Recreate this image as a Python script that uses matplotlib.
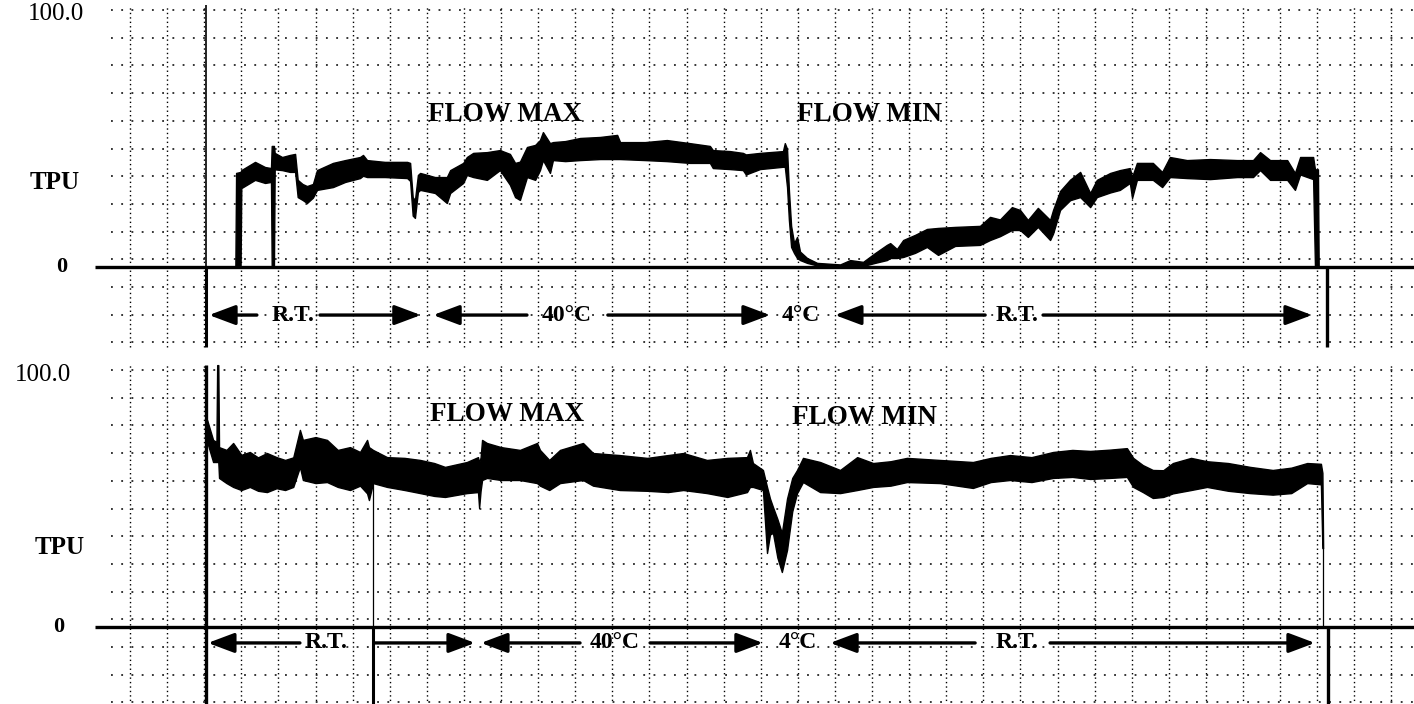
import numpy as np
import matplotlib.pyplot as plt

# chart recorder trace, upper / lower edge of the pen band (TPU), x in chart divisions
top_x = [2.84, 2.86, 2.98, 3.00, 3.37, 3.64, 3.80, 3.82, 3.88, 3.90, 4.10, 4.31, 4.45, 4.52,
         4.65, 4.77, 4.93, 5.04, 5.47, 5.80, 6.20, 6.28, 6.39, 6.87, 7.47, 7.55, 7.62, 7.68,
         7.76, 7.82, 8.22, 8.54, 8.63, 8.98, 9.08, 9.25, 9.62, 9.97, 10.24, 10.38, 10.51,
         10.70, 10.92, 11.05, 11.13, 11.32, 11.40, 11.73, 12.13, 12.67, 13.13, 13.21, 13.88,
         14.47, 15.09, 15.63, 15.71, 16.17, 16.52, 16.60, 16.98, 17.60, 17.65, 17.71, 17.76,
         17.82, 17.90, 17.98, 18.06, 18.25, 18.52, 19.14, 19.41, 19.76, 20.08, 20.40, 20.49,
         20.67, 20.84, 21.16, 21.48, 21.78, 22.24, 22.91, 23.18, 23.45, 23.77, 23.99, 24.20,
         24.47, 24.80, 24.88, 25.07, 25.34, 25.61, 25.88, 26.06, 26.42, 26.68, 26.95, 27.01,
         27.14, 27.57, 27.82, 28.03, 28.49, 29.11, 29.84, 30.27, 30.46, 30.73, 31.19, 31.40,
         31.54, 31.89, 31.94, 32.02, 32.04]
top_hi = [0, 36.6, 37.0, 37.7, 40.9, 38.9, 38.5, 47.1, 47.1, 44.4, 42.8, 43.6, 44.0, 33.9,
          32.3, 31.5, 32.3, 37.7, 40.5, 41.6, 42.8, 43.6, 41.6, 40.9, 40.9, 40.5, 27.2, 26.0,
          35.8, 36.6, 35.0, 35.0, 37.7, 40.5, 42.8, 44.4, 44.7, 45.5, 44.0, 40.5, 41.0,
          46.7, 47.5, 49.4, 52.5, 48.2, 48.6, 49.0, 50.2, 50.6, 51.4, 48.6, 48.6,
          49.4, 48.2, 47.1, 45.5, 45.1, 44.4, 43.8, 44.4, 45.1, 48.2, 46.0, 30.0,
          16.0, 9.3, 11.7, 6.0, 3.5, 1.6, 1.0, 2.7, 2.0, 5.4, 8.6, 9.3,
          7.0, 10.5, 12.5, 14.8, 15.2, 15.6, 16.0, 19.5, 18.5, 23.3, 22.2, 18.3,
          23.0, 18.3, 22.2, 29.6, 34.0, 37.0, 28.8, 33.9, 36.6, 37.7, 38.5, 35.0,
          40.5, 40.5, 37.0, 42.8, 41.6, 42.0, 41.6, 41.6, 44.7, 41.6, 41.6, 36.6,
          42.8, 42.8, 38.0, 38.0, 0]
top_lo = [0, 0, 0, 30.7, 33.9, 32.7, 33.1, 0, 0, 38.0, 37.7, 37.0, 37.0, 27.2,
          26.1, 24.9, 27.0, 30.0, 31.1, 33.1, 34.6, 35.5, 35.0, 35.0, 34.6, 33.5, 20.0, 19.1,
          29.2, 30.0, 28.8, 24.9, 28.8, 32.7, 35.8, 35.0, 33.9, 37.7, 32.0, 27.2, 26.1,
          35.0, 33.9, 37.7, 41.6, 36.6, 41.6, 41.2, 41.6, 42.0, 42.0, 42.0, 41.6,
          41.2, 40.5, 40.5, 38.5, 38.1, 37.7, 36.0, 38.1, 39.0, 39.0, 31.1, 18.3,
          7.8, 5.4, 3.5, 2.7, 1.6, 0.6, 0.0, 0.4, 0.4, 1.6, 2.7, 3.5,
          3.5, 3.9, 5.5, 7.8, 4.7, 8.2, 8.6, 10.5, 12.0, 14.4, 14.4, 11.7,
          15.6, 10.5, 13.0, 22.2, 26.0, 27.2, 23.3, 27.2, 29.0, 30.0, 32.7, 26.8,
          33.9, 33.9, 31.1, 35.0, 34.6, 34.2, 35.0, 35.0, 37.7, 33.9, 33.9, 30.0,
          36.0, 34.2, 0, 0, 0]

bot_x = [2.08, 2.24, 2.33, 2.35, 2.38, 2.40, 2.60, 2.78, 3.00, 3.23, 3.45, 3.69, 3.95, 4.18,
         4.40, 4.58, 4.66, 5.00, 5.31, 5.60, 5.93, 6.20, 6.39, 6.44, 6.55, 6.93, 7.40, 7.82,
         8.20, 8.49, 9.08, 9.38, 9.41, 9.45, 9.49, 9.62, 10.00, 10.51, 10.97, 11.05, 11.30,
         11.59, 12.21, 12.48, 13.20, 13.94, 14.50, 14.91, 15.55, 16.10, 16.63, 16.71, 16.79,
         17.06, 17.17, 17.25, 17.33, 17.45, 17.57, 17.71, 17.85, 17.98, 18.14, 18.60, 19.14,
         19.60, 20.03, 20.50, 20.94, 21.83, 22.72, 23.20, 23.72, 24.30, 24.88, 25.40, 25.88,
         26.40, 26.87, 27.04, 27.30, 27.57, 27.85, 28.11, 28.60, 29.03, 29.60, 30.19, 30.80,
         31.30, 31.73, 32.10, 32.14, 32.16]
bot_hi = [80.5, 72.8, 72.0, 101.9, 101.9, 70.0, 68.9, 71.6, 67.0, 68.1, 66.0, 67.7, 66.1, 65.0,
          66.0, 76.7, 72.8, 73.9, 72.8, 68.9, 70.0, 68.1, 72.8, 70.0, 68.9, 66.1, 65.8, 65.0,
          63.8, 62.3, 64.2, 66.1, 64.0, 66.0, 72.8, 71.6, 70.0, 68.9, 71.6, 68.9, 65.0,
          68.9, 71.6, 67.7, 66.9, 65.8, 66.9, 67.7, 65.0, 65.8, 66.1, 68.9, 63.8,
          61.1, 54.5, 50.0, 46.7, 42.0, 36.6, 50.0, 58.0, 61.1, 65.8, 64.2, 61.1,
          66.1, 63.8, 64.5, 65.8, 65.0, 64.2, 65.8, 66.9, 66.1, 68.1, 68.9, 68.5,
          69.0, 69.6, 65.8, 63.0, 61.1, 61.0, 63.8, 65.8, 64.5, 63.8, 62.3, 61.1,
          62.0, 63.8, 63.5, 60.0, 30.7]
bot_lo = [72.0, 64.2, 64.2, 64.2, 64.2, 58.0, 56.0, 54.5, 53.3, 54.5, 53.0, 52.5, 54.0, 53.3,
          54.5, 62.3, 57.2, 56.0, 56.4, 54.5, 53.3, 55.0, 52.0, 49.4, 56.0, 54.5, 53.3, 52.1,
          51.0, 50.6, 52.1, 52.5, 46.3, 53.0, 57.2, 58.0, 57.2, 57.2, 56.0, 55.0, 53.3,
          56.0, 57.2, 55.0, 53.3, 53.0, 52.5, 53.3, 52.1, 50.6, 52.5, 54.5, 54.5,
          53.3, 28.8, 36.0, 36.6, 27.0, 21.4, 30.0, 45.0, 52.1, 56.4, 52.5, 52.1,
          53.3, 54.5, 55.0, 56.4, 56.0, 54.1, 56.4, 57.2, 56.4, 58.0, 58.4, 57.6,
          58.0, 58.4, 54.5, 52.5, 50.2, 50.6, 52.0, 53.3, 54.5, 53.0, 52.1, 51.5,
          52.1, 56.0, 55.5, 30.7, 30.7]

# event marks (x, y from, y to, width)
top_marks = [(2.05, 0, 102, 1.2), (2.05, -31, 0, 2.2), (32.26, -31, 0, 2.4)]
bot_marks = [(2.05, -30, 102, 2.4), (6.55, 0, 57, 0.9), (6.55, -30, 0, 2.2),
             (32.15, 0, 30.7, 0.9), (32.29, -30, 0, 2.4)]

# temperature arrows (tail, tip) and labels
top_arrows = [(3.42, 2.13), (5.12, 7.84), (10.70, 8.17), (12.88, 17.25), (23.05, 19.0), (24.61, 31.86)]
top_temps = [(4.39, 'R.T.'), (11.78, '40°C'), (18.09, '4°C'), (23.91, 'R.T.')]
bot_arrows = [(4.58, 2.10), (6.60, 9.30), (12.13, 9.46), (14.02, 17.06), (22.78, 18.87), (24.80, 31.94)]
bot_temps = [(5.28, 'R.T.'), (13.07, '40°C'), (18.0, '4°C'), (23.9, 'R.T.')]

DIV = 37.1    # px per division
UNIT = 2.57   # px per TPU
serif = 'Liberation Serif'

fig = plt.figure(figsize=(14.14, 7.04), dpi=100)
fig.patch.set_facecolor('white')


def panel(rect, zero_px, top_px, bot_px):
    ax = fig.add_axes(rect)
    ax.set_xlim(-130 / DIV, (1414 - 130) / DIV)
    ax.set_ylim((zero_px - bot_px) / UNIT, (zero_px - top_px) / UNIT)
    ax.axis('off')
    xr = ax.get_xlim()[1]
    for k in range(13):
        ax.plot([-0.5, xr], [100 - 10.78 * k] * 2, color='k', lw=1.1,
                linestyle=(0, (1.2, 5.5)))
    ax.vlines(np.arange(0, 35), -31, 102, color='k', lw=1.0, linestyles=[(0, (1, 2.2))])
    ax.plot([-0.95, xr], [0, 0], color='k', lw=2.4, solid_capstyle='butt')
    return ax


def arrows(ax, pairs, labels, y):
    for tail, tip in pairs:
        ax.annotate('', xy=(tip, y), xytext=(tail, y),
                    arrowprops=dict(arrowstyle='-|>,head_length=0.8,head_width=0.3',
                                    mutation_scale=20, lw=2.4, color='k',
                                    shrinkA=0, shrinkB=0))
    for x, s in labels:
        ax.text(x, y, s, ha='center', va='center', fontsize=17, fontweight='bold',
                family=serif)


def labels(ax, ymax, ytpu, xs, yflow):
    ax.text(xs[0], ymax, '100.0', ha='center', va='center', fontsize=18, family=serif)
    ax.text(xs[1], ytpu, 'TPU', ha='center', va='center', fontsize=18, fontweight='bold', family=serif)
    ax.text(xs[2], 0, '0', ha='center', va='center', fontsize=16, fontweight='bold', family=serif)
    ax.text(xs[3], yflow[0], 'FLOW MAX', ha='left', va='center', fontsize=19.5,
            fontweight='bold', family=serif)
    ax.text(xs[4], yflow[1], 'FLOW MIN', ha='left', va='center', fontsize=19.5,
            fontweight='bold', family=serif)


# top panel
ax1 = panel([0, 0.5, 1, 0.5], 267, 0, 352)
ax1.fill_between(top_x, top_lo, top_hi, color='k', lw=1.0, edgecolor='k')
for x, y0, y1, w in top_marks:
    ax1.plot([x, x], [y0, y1], color='k', lw=w, solid_capstyle='butt')
arrows(ax1, top_arrows, top_temps, -18.7)
labels(ax1, 98.4, 32.7, [-1.99, -2.02, -1.83, 8.03, 17.98], [59.5, 59.5])

# bottom panel
ax2 = panel([0, 0, 1, 0.5], 627, 352, 704)
ax2.fill_between(bot_x, bot_lo, bot_hi, color='k', lw=1.0, edgecolor='k')
for x, y0, y1, w in bot_marks:
    ax2.plot([x, x], [y0, y1], color='k', lw=w, solid_capstyle='butt')
arrows(ax2, bot_arrows, bot_temps, -6.2)
labels(ax2, 98.1, 31.1, [-2.35, -1.89, -1.91, 8.09, 17.84], [82.5, 81.7])

fig.savefig('out.png', dpi=100, facecolor='white')
